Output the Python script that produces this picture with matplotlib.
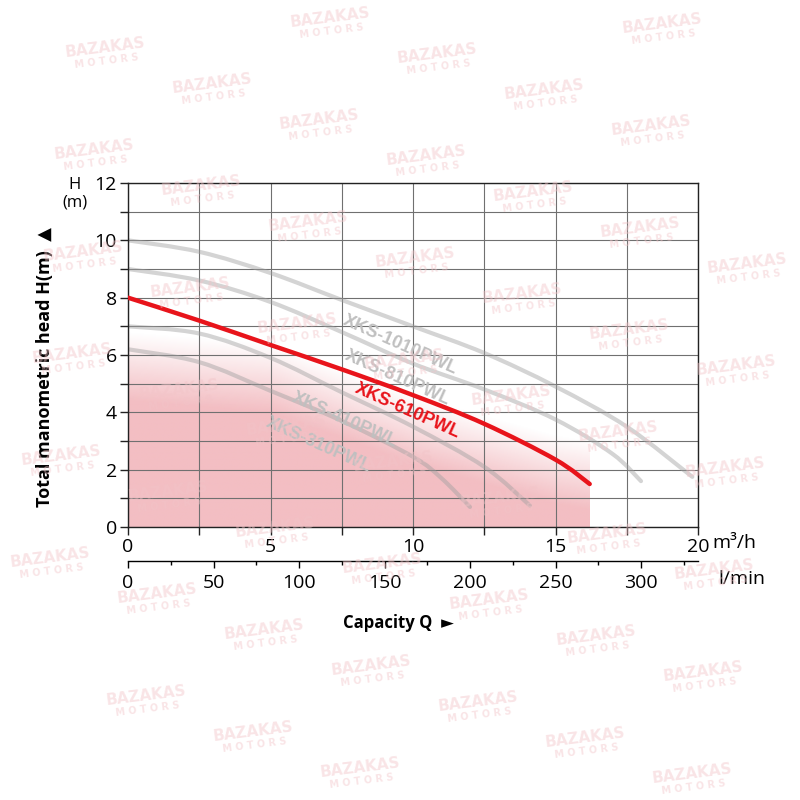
import matplotlib
matplotlib.use("Agg")
import matplotlib.pyplot as plt
from matplotlib.path import Path
from matplotlib.patches import PathPatch
import numpy as np

plt.rcParams['font.family'] = ['Open Sans', 'DejaVu Sans']

# pump curves: capacity Q (m3/h) and head H (m)
q_310 = [0, 2.5, 5, 7.5, 10, 11, 12.0]
h_310 = [6.2, 5.75, 4.75, 3.7, 2.45, 1.7, 0.7]

q_410 = [0, 2.5, 5, 7.5, 10, 12.5, 14.1]
h_410 = [7.0, 6.75, 5.9, 4.7, 3.5, 2.1, 0.75]

q_610 = [0, 2.5, 5, 7.5, 10, 12.5, 15, 16.2]
h_610 = [8.0, 7.2, 6.35, 5.5, 4.6, 3.6, 2.35, 1.5]

q_810 = [0, 2.5, 5, 7.5, 10, 12.5, 15, 17, 18.0]
h_810 = [9.0, 8.6, 7.85, 6.8, 5.7, 4.8, 3.75, 2.55, 1.6]

q_1010 = [0, 2.5, 5, 7.5, 10, 12.5, 15, 17.5, 19.8]
h_1010 = [10.0, 9.6, 8.86, 7.92, 7.0, 6.07, 4.9, 3.5, 1.75]

# label position (Q, H) for each model
models = ["XKS-310PWL", "XKS-410PWL", "XKS-810PWL", "XKS-1010PWL"]
gray_q = [q_310, q_410, q_810, q_1010]
gray_h = [h_310, h_410, h_810, h_1010]
label_q = [6.67, 7.6, 9.47, 9.54]
label_h = [2.86, 3.73, 5.2, 6.35]

red_label = "XKS-610PWL"
red_label_q, red_label_h = 9.8, 4.05

# top edge of the pink shading (fade middle)
shade_q = [0, 5, 10, 15, 16.2]
shade_mid = [5.6, 5.2, 3.4, 2.0, 1.8]
fade = 2.4

x_major = [0, 5, 10, 15, 20]
lmin_major = [0, 50, 100, 150, 200, 250, 300]


def smooth_path(xs, ys):
    # catmull-rom through the read points, as cubic bezier pieces
    p = np.column_stack([xs, ys]).astype(float)
    p = np.vstack([p[0], p, p[-1]])
    verts = [p[1]]
    codes = [Path.MOVETO]
    for i in range(1, len(p) - 2):
        c1 = p[i] + (p[i + 1] - p[i - 1]) / 6
        c2 = p[i + 1] - (p[i + 2] - p[i]) / 6
        verts += [c1, c2, p[i + 1]]
        codes += [Path.CURVE4] * 3
    return Path(verts, codes)


fig = plt.figure(figsize=(8, 8), dpi=100)
ax = fig.add_axes([0.16, 0.34125, 0.7125, 0.43])

# pink gradient under the selected pump
pink = np.array([243, 190, 195]) / 255.0
qq = np.linspace(0, q_610[-1], 400)
hh = np.linspace(0, 12, 400)
mid = np.interp(qq, shade_q, shade_mid)
alpha = np.clip((mid[None, :] - hh[:, None]) / fade + 0.5, 0, 1)
img = np.zeros((len(hh), len(qq), 4))
img[..., :3] = pink
img[..., 3] = alpha
ax.imshow(img, extent=(0, q_610[-1], 0, 12), origin='lower',
          aspect='auto', zorder=0.5, interpolation='bilinear')

for qs, hs in zip(gray_q, gray_h):
    ax.add_patch(PathPatch(smooth_path(qs, hs), fill=False,
                           edgecolor='#a0a0a0', alpha=0.45, lw=3,
                           capstyle='round', zorder=2))
ax.add_patch(PathPatch(smooth_path(q_610, h_610), fill=False,
                       edgecolor='#e8141b', lw=3.2, capstyle='round', zorder=3))

narrow = ['Liberation Sans Narrow', 'Liberation Sans', 'DejaVu Sans']
for name, lq, lh in zip(models, label_q, label_h):
    ax.text(lq, lh, name, color='#c0c0c0', fontsize=13, fontweight='bold',
            family=narrow, rotation=-24, rotation_mode='anchor',
            ha='center', va='center', zorder=2.5)
ax.text(red_label_q, red_label_h, red_label, color='#e8141b', fontsize=13,
        fontweight='bold', family=narrow, rotation=-24,
        rotation_mode='anchor', ha='center', va='center', zorder=3)

ax.set_xlim(0, 20)
ax.set_ylim(0, 12)
ax.set_xticks(x_major)
ax.set_xticks(np.arange(0, 20.1, 2.5), minor=True)
ax.set_yticks(range(0, 13, 2))
ax.set_yticks(range(0, 13), minor=True)
ax.grid(which='both', color='#707070', lw=0.8, zorder=1)
ax.tick_params(which='both', direction='out', length=6, width=1,
               labelsize=14, color='#222222', pad=2)
for s in ax.spines.values():
    s.set_color('#222222')
    s.set_linewidth(1)

# second capacity scale in l/min
ax2 = ax.secondary_xaxis(-34 / 344, functions=(lambda q: q * 1000 / 60,
                                                lambda l: l * 60 / 1000))
ax2.set_xticks(lmin_major)
ax2.set_xticks(np.arange(0, 330, 25), minor=True)
ax2.tick_params(which='major', direction='out', length=5, width=1,
                labelsize=14, pad=4)
ax2.tick_params(which='minor', direction='out', length=3, width=1)
ax2.spines['bottom'].set_linewidth(1)

fig.text(712 / 800, 1 - 543 / 800, "m³/h", fontsize=14, ha='left', va='center')
fig.text(718 / 800, 1 - 579 / 800, "l/min", fontsize=14, ha='left', va='center')
fig.text(75 / 800, 1 - 185 / 800, "H", fontsize=12, ha='center', va='center')
fig.text(75 / 800, 1 - 203 / 800, "(m)", fontsize=12, ha='center', va='center')
fig.text(45 / 800, 1 - 367 / 800, "Total manometric head H(m)  ▲", rotation=90,
         fontsize=13, fontweight='bold', ha='center', va='center')
fig.text(398 / 800, 1 - 623 / 800, "Capacity Q  ►", fontsize=12,
         fontweight='bold', ha='center', va='center')

# faint watermark tiles
wm_a = np.array([-225, 30])
wm_b = np.array([107, 36])
for i in range(-6, 8):
    for j in range(-6, 26):
        x, y = np.array([330, 18]) + i * wm_a + j * wm_b
        if 48 < x < 752 and 12 < y < 780:
            fig.text(x / 800, 1 - y / 800, "BAZAKAS", fontsize=11,
                     fontweight='bold', color='#f2c4c8', alpha=0.45,
                     rotation=7, ha='center', va='center', zorder=10,
                     family='DejaVu Sans')
            fig.text((x + 2) / 800, 1 - (y + 13) / 800, "M O T O R S",
                     fontsize=7, fontweight='bold', color='#f2c4c8',
                     alpha=0.45, rotation=7, ha='center', va='center',
                     zorder=10, family='DejaVu Sans')

fig.savefig("out.png", dpi=100)
